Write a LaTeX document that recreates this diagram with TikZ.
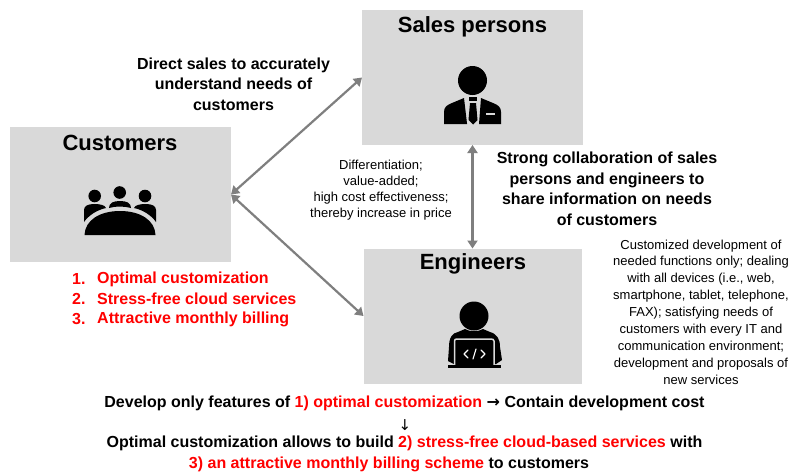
\documentclass[tikz,border=0pt]{standalone}
\usepackage{fontspec}
\setmainfont{Liberation Sans}
\newfontfamily\djv{DejaVu Sans}
\definecolor{boxgray}{HTML}{D9D9D9}
\definecolor{arrowgray}{HTML}{7F7F7F}
\definecolor{redtxt}{HTML}{FF0000}
\usetikzlibrary{arrows.meta}
\tikzset{
  panel/.style={fill=boxgray,draw=none,minimum width=#1,inner sep=0pt,outer sep=0pt},
  panelh/.style={minimum height=135pt},
  title/.style={font=\bfseries\fontsize{22}{24}\selectfont,inner sep=0pt},
  lead/.style={font=\bfseries\fontsize{16}{20.5}\selectfont,align=center,inner sep=0pt},
  small/.style={font=\fontsize{13}{16}\selectfont,align=center,inner sep=0pt},
  smallr/.style={font=\fontsize{13}{16.9}\selectfont,align=center,inner sep=0pt},
  listitem/.style={font=\bfseries\fontsize{16}{20}\selectfont,text=redtxt,inner sep=0pt,anchor=west},
  link/.style={draw=arrowgray,line width=2.2pt,{Triangle[length=8pt,width=10pt]}-{Triangle[length=8pt,width=10pt]}}
}
\newcommand{\red}[1]{\textcolor{redtxt}{#1}}
\begin{document}
\begin{tikzpicture}[x=1pt,y=-1pt]
\useasboundingbox (0,0) rectangle (798,472);
\fill[white] (0,0) rectangle (798,472);
% panels
\node[panel=221pt,panelh] (cust) at (120.5,194.5) {};
\node[panel=221pt,panelh] (sales) at (472.5,77.5) {};
\node[panel=218pt,panelh] (eng) at (472.5,316) {};
% connectors
\draw[link] (cust.east) -- (sales.west);
\draw[link] (cust.east) -- (eng.west);
\draw[link] (sales.south) -- (eng.north);
% titles
\node[title] (custT) at (120,143) {Customers};
\node[title] (salesT) at (472.5,27) {Sales persons};
\node[title] (engT) at (473,264) {Engineers};
% customers icon
\begin{scope}[black]
\fill (94.7,196) circle (6.3);
\fill (119.7,192.5) circle (6.3);
\fill (145,196) circle (6.3);
\fill (84,222) -- (84,210) .. controls (84,206) and (88,204) .. (94,204) .. controls (100,204) and (105,205) .. (106,208) .. controls (97,210) and (89,215) .. (84,222) -- cycle;
\fill (109,208) .. controls (109,203) and (113,201) .. (120,201) .. controls (127,201) and (131,203) .. (131,208) .. controls (123,206) and (116,206) .. (109,208) -- cycle;
\fill (156,222) -- (156,210) .. controls (156,206) and (152,204) .. (146,204) .. controls (140,204) and (135,205) .. (134,208) .. controls (143,210) and (151,215) .. (156,222) -- cycle;
\fill (84.5,235) .. controls (85,220) and (100,211) .. (120,211) .. controls (140,211) and (155,220) .. (155.5,235) -- cycle;
\end{scope}
% sales icon
\begin{scope}[black]
\fill (472.5,80.5) circle (14.5);
\fill (444,124) -- (444,112) .. controls (444,107) and (447,105) .. (452,103) -- (464,98) -- (467,123.5) -- (467,124) -- cycle;
\fill (501,124) -- (501,112) .. controls (501,107) and (498,105) .. (493,103) -- (481,98) -- (479,124) -- cycle;
\fill (469,97) -- (477,97) -- (477,101) -- (469,101) -- cycle;
\fill (470,103) -- (476,103) -- (477.5,120) -- (473,124.5) -- (468.5,120) -- cycle;
\fill[boxgray] (486,112.5) rectangle (495,115);
\end{scope}
% engineer icon
\begin{scope}[black]
\fill (474,316) circle (14.5);
\fill (448,361) -- (449,347) .. controls (449,338) and (452,333) .. (458,332) -- (465,329) .. controls (470,332) and (478,332) .. (483,329) -- (490,332) .. controls (497,334) and (500,339) .. (500,347) -- (502,360) -- (496,364) -- (454,364) -- cycle;
\draw[boxgray,line width=1.5pt,line join=round,fill=black] (454.5,367) -- (454.5,341) .. controls (454.5,339.5) and (455.5,339) .. (457,339) -- (491,339) .. controls (492.5,339) and (494,339.5) .. (494,341) -- (494,367);
\fill (448,365) rectangle (500.5,368);
\draw[white,line width=1.1pt,line cap=round,line join=round] (468,350) -- (464,354) -- (468,358);
\draw[white,line width=1.1pt,line cap=round,line join=round] (481,350) -- (485,354) -- (481,358);
\draw[white,line width=1.1pt,line cap=round] (476,349) -- (473,359);
\end{scope}
% labels
\node[lead] (direct) at (233.5,84) {Direct sales to accurately\\understand needs of\\customers};
\node[small] (diff) at (381,190) {Differentiation;\\value-added;\\high cost effectiveness;\\thereby increase in price};
\node[lead] (strong) at (607,189) {Strong collaboration of sales\\persons and engineers to\\share information on needs\\of customers};
\node[smallr] (custom) at (701,312) {Customized development of\\needed functions only; dealing\\with all devices (i.e., web,\\smartphone, tablet, telephone,\\FAX); satisfying needs of\\customers with every IT and\\communication environment;\\development and proposals of\\new services};
% list
\node[listitem] (n1) at (72,279) {1.};
\node[listitem] (t1) at (97,279) {Optimal customization};
\node[listitem] (n2) at (72,299) {2.};
\node[listitem] (t2) at (97,299) {Stress-free cloud services};
\node[listitem] (n3) at (72,319) {3.};
\node[listitem] (t3) at (97,319) {Attractive monthly billing};
% bottom
\node[lead] (b1) at (404.5,403) {Develop only features of \red{1) optimal customization} {\djv\bfseries →} Contain development cost};
\node[lead] (b2) at (405,425) {\fontsize{15}{15}\selectfont\djv\mdseries ↓};
\node[lead] (b3) at (404.5,443) {Optimal customization allows to build \red{2) stress-free cloud-based services} with};
\node[lead] (b4) at (389,464) {\red{3) an attractive monthly billing scheme} to customers};
\end{tikzpicture}
\end{document}
